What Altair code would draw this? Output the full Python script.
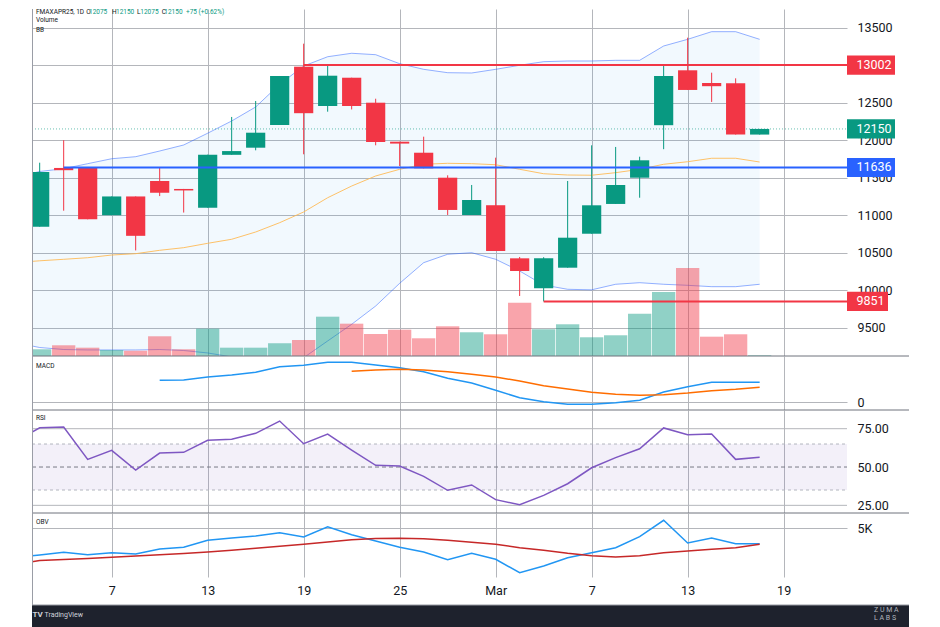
import altair as alt
import pandas as pd

# ---------------- style constants ----------------
FONT = "Roboto"
TXT = "#131722"
GRID = "#b4b6bb"
SEP = "#6f727c"
GREEN = "#089981"
RED = "#F23645"
BLUE = "#2962FF"

W = 815
FULL_W = 877
H_MAIN, H_MACD, H_RSI, H_OBV = 347, 54, 103, 64

# ---------------- data ----------------
tick_idx = [3, 7, 11, 15, 19, 23, 27, 31]
tick_lab = ["7", "13", "19", "25", "Mar", "7", "13", "19"]

bar_idx = list(range(31))
open_ = [10847, 11630, 11633, 11000, 11250, 11455, 11350, 11100, 11805, 11900, 12203,
         12980, 12456, 12833, 12500, 11980, 11833, 11500, 11003, 11133, 10425, 10025,
         10300, 10753, 11150, 11500, 12200, 12932, 12763, 12760, 12075]
high = [11700, 12000, 11633, 11250, 11250, 11630, 11350, 11807, 12310, 12523, 12856,
        13287, 12989, 12833, 12553, 11980, 12047, 11532, 11403, 11767, 10443, 10440,
        11456, 11932, 11910, 11780, 13000, 13367, 12900, 12825, 12150]
low = [10847, 11060, 10945, 11000, 10530, 11255, 11035, 11100, 11805, 11865, 12203,
       11812, 12380, 12410, 11932, 11656, 11625, 11003, 11003, 10523, 9923, 9851,
       10300, 10753, 11150, 11233, 11880, 12669, 12510, 12075, 12075]
close = [11576, 11600, 10945, 11250, 10725, 11300, 11330, 11807, 11855, 12100, 12856,
         12360, 12860, 12456, 11976, 11955, 11625, 11070, 11203, 10523, 10256, 10425,
         10700, 11132, 11403, 11732, 12856, 12670, 12720, 12075, 12150]
volume = [168, 268, 208, 150, 133, 493, 168, 683, 208, 208, 318, 400, 983, 808, 550,
          658, 443, 743, 593, 543, 1333, 668, 793, 468, 518, 1058, 1600, 2200, 483, 543, 18]

ind_idx = list(range(-1, 31))
bb_upper = [11508, 11583, 11620, 11687, 11753, 11780, 11856, 11936, 12093, 12256, 12443,
            12745, 12989, 13113, 13159, 13140, 13020, 12945, 12900, 12896, 12945, 12999,
            13047, 13056, 13056, 13065, 13065, 13256, 13345, 13447, 13447, 13345]
bb_basis = [10368, 10392, 10412, 10433, 10469, 10487, 10532, 10567, 10625, 10679, 10776,
            10900, 11043, 11233, 11389, 11523, 11612, 11679, 11692, 11687, 11673, 11612,
            11553, 11536, 11533, 11567, 11612, 11679, 11713, 11759, 11759, 11709]
bb_lower = [9299, 9236, 9209, 9203, 9203, 9203, 9209, 9196, 9163, 9110, 9100, 9060,
            9100, 9323, 9545, 9789, 10092, 10367, 10479, 10500, 10412, 10256, 10069,
            10012, 10005, 10079, 10100, 10079, 10065, 10047, 10047, 10079]
rsi_vals = [66.7, 75.6, 76.1, 55.0, 60.9, 48.0, 59.1, 59.6, 67.4, 68.1, 72.0, 80.0, 65.2,
            71.5, 61.1, 51.1, 50.7, 43.9, 34.8, 38.3, 28.7, 25.4, 31.5, 39.1, 49.5, 56.1,
            61.9, 75.5, 71.1, 71.5, 55.0, 56.3]
obv_vals = [2110, 2330, 2600, 2360, 2560, 2430, 2930, 3100, 3800, 4030, 4230, 4560, 4130,
            5160, 4360, 3730, 3100, 2630, 1860, 2500, 1900, 560, 1230, 2060, 2560, 3060,
            4160, 5800, 3530, 4030, 3460, 3460]
obv_ma = [1410, 1780, 1880, 1980, 2100, 2230, 2350, 2480, 2630, 2810, 3000, 3200, 3400,
          3630, 3860, 3980, 4000, 3960, 3800, 3600, 3400, 3060, 2800, 2500, 2260, 2130,
          2260, 2560, 2730, 2900, 3060, 3400]

MACD_START = 5
macd_vals = [217, 220, 250, 270, 297, 353, 367, 397, 397, 370, 343, 303, 237, 190, 117,
             43, 3, -23, -23, -7, 17, 100, 153, 197, 197, 197]
SIG_START = 13
signal_vals = [307, 320, 327, 320, 303, 277, 250, 210, 163, 130, 97, 77, 67, 73, 90, 113,
               127, 147]

level_val = [13002, 11636, 9851]
level_from = [11, 1, 21]
level_col = [RED, BLUE, RED]

tag_val = [13002, close[-1], 11636, 9851]
tag_col = [RED, GREEN, BLUE, RED]

price_ticks = [9500, 10000, 10500, 11000, 11500, 12000, 12500, 13000, 13500]
price_hidden = 13000          # label fully covered by the 13002 tag in the original
macd_ticks = [0]
rsi_ticks = [25, 50, 75]
rsi_band = [35, 65]
obv_ticks = [5000]

X_DOM = [-0.32, 33.64]
PRICE_DOM = [9122.7, 13749.3]
VOL_DOM = [0, 8675]
MACD_DOM = [-80, 460]
RSI_DOM = [20.0, 87.2]
OBV_DOM = [130, 6530]

# ---------------- frames ----------------
ind = pd.DataFrame({"i": ind_idx, "up": bb_upper, "mid": bb_basis, "lo": bb_lower,
                    "rsi": rsi_vals, "obv": obv_vals, "obvma": obv_ma})
bars = pd.DataFrame({"i": bar_idx, "o": open_, "h": high, "l": low, "c": close, "v": volume})
one = pd.DataFrame({"k": [0]})

xs = alt.Scale(domain=X_DOM, nice=False, zero=False)
ps = alt.Scale(domain=PRICE_DOM, nice=False, zero=False)

label_expr = ("[" + ",".join(f"'{t}'" for t in tick_lab) + "][indexof(["
              + ",".join(str(v) for v in tick_idx) + "], datum.value)]")


def xaxis(show):
    kw = dict(values=tick_idx, grid=True, gridColor=GRID, gridWidth=1, ticks=False,
              domain=False, labels=show, title=None)
    if show:
        kw.update(labelExpr=label_expr, labelFont=FONT, labelFontSize=12.5, labelColor=TXT,
                  labelPadding=7,
                  labelFontWeight={"condition": {"test": "datum.label == 'Mar'", "value": "bold"},
                                   "value": "normal"})
    return alt.Axis(**kw)


def yaxis(values, fmt=None, expr=None, grid=True):
    kw = dict(values=values, orient="right", grid=grid, gridColor=GRID, gridWidth=1,
              ticks=False, domain=False, title=None, labelFont=FONT, labelFontSize=12.5,
              labelColor=TXT, labelPadding=10)
    if fmt:
        kw["format"] = fmt
    if expr:
        kw["labelExpr"] = expr
    return alt.Axis(**kw)


XA_HIDE = xaxis(False)
XA_SHOW = xaxis(True)
YA_PRICE = yaxis(price_ticks, fmt="d",
                 expr=f"datum.value == {price_hidden} ? '' : format(datum.value, 'd')")
YA_MACD = yaxis(macd_ticks)
YA_RSI = yaxis(rsi_ticks, fmt=".2f", grid=False)
YA_OBV = yaxis(obv_ticks, expr="datum.value / 1000 + 'K'")


def xenc(field, axis):
    return alt.X(f"{field}:Q", scale=xs, axis=axis, title=None)


def hsep(y, color=SEP, x1=FULL_W):
    return alt.Chart(one).mark_rule(color=color, strokeWidth=1).encode(
        x=alt.value(0), x2=alt.value(x1), y=alt.value(y))


def vsep(y0, y1, color="#9a9da6"):
    return alt.Chart(one).mark_rule(color=color, strokeWidth=1).encode(
        x=alt.value(0.5), y=alt.value(y0), y2=alt.value(y1))


def label(text, x, y, size=8, color=TXT, weight="normal", baseline="middle", font=FONT):
    return alt.Chart(one).mark_text(text=text, align="left", baseline=baseline, font=font,
                                    fontSize=size, color=color, fontWeight=weight).encode(
        x=alt.value(x), y=alt.value(y))


updown = alt.condition("datum.c >= datum.o", alt.value(GREEN), alt.value(RED))

# ---------------- main panel ----------------
def py(field, axis):
    return alt.Y(f"{field}:Q", scale=ps, axis=axis, title=None)


bb_fill = alt.Chart(ind).mark_area(color="#2196F3", opacity=0.06, clip=True).encode(
    x=xenc("i", XA_HIDE), y=py("up", YA_PRICE), y2="lo:Q")
bb_up = alt.Chart(ind).mark_line(color=BLUE, opacity=0.5, strokeWidth=1, clip=True).encode(
    x=xenc("i", XA_HIDE), y=py("up", YA_PRICE))
bb_lo = alt.Chart(ind).mark_line(color=BLUE, opacity=0.5, strokeWidth=1, clip=True).encode(
    x=xenc("i", XA_HIDE), y=py("lo", YA_PRICE))
bb_mid = alt.Chart(ind).mark_line(color="#FFB74D", opacity=0.85, strokeWidth=1, clip=True).encode(
    x=xenc("i", XA_HIDE), y=py("mid", YA_PRICE))
last_line = alt.Chart(pd.DataFrame({"v": [close[-1]]})).mark_rule(
    color=GREEN, strokeDash=[1, 2], opacity=0.6).encode(
    x=alt.value(0), x2=alt.value(W), y=py("v", YA_PRICE))
group_a = alt.layer(bb_fill, bb_up, bb_lo, bb_mid, last_line)

vol = alt.Chart(bars).transform_calculate(
    vl="datum.i - 0.485", vr="datum.i + 0.485", v0="0").mark_rect(
    opacity=0.45, clip=True).encode(
    x=xenc("vl", XA_HIDE), x2="vr:Q",
    y=alt.Y("v:Q", scale=alt.Scale(domain=VOL_DOM, nice=False, zero=True), axis=None),
    y2="v0:Q", color=updown)

wicks = alt.Chart(bars).mark_rule(strokeWidth=1, clip=True).encode(
    x=xenc("i", XA_HIDE), y=py("h", None), y2="l:Q", color=updown)
bodies = alt.Chart(bars).transform_calculate(
    xl="datum.i - 0.4", xr="datum.i + 0.4").mark_rect(clip=True).encode(
    x=xenc("xl", XA_HIDE), x2="xr:Q", y=py("o", None), y2="c:Q", color=updown)

levels = alt.Chart(pd.DataFrame({"v": level_val, "s": level_from, "col": level_col})).mark_rule(
    strokeWidth=2, clip=True).encode(
    x=xenc("s", XA_HIDE), x2=alt.value(W), y=py("v", None),
    color=alt.Color("col:N", scale=None))

tags = pd.DataFrame({"v": tag_val, "col": tag_col, "lab": [str(v) for v in tag_val]})
tag_half = 9.6 * (PRICE_DOM[1] - PRICE_DOM[0]) / H_MAIN
tag_base = alt.Chart(tags).transform_calculate(
    n="length(datum.lab)", top=f"datum.v + {tag_half}", bot=f"datum.v - {tag_half}")
tag5 = tag_base.transform_filter("datum.n >= 5").mark_rect().encode(
    x=alt.value(W), x2=alt.value(W + 48), y=py("top", None), y2="bot:Q",
    color=alt.Color("col:N", scale=None))
tag4 = tag_base.transform_filter("datum.n < 5").mark_rect().encode(
    x=alt.value(W), x2=alt.value(W + 41), y=py("top", None), y2="bot:Q",
    color=alt.Color("col:N", scale=None))
tag_text = alt.Chart(tags).mark_text(align="left", baseline="middle", font=FONT,
                                     fontSize=12.5, color="white").encode(
    x=alt.value(W + 9.5), y=py("v", None), text="lab:N")

chg = close[-1] - close[-2]
pct = chg / close[-2] * 100
legend_parts = [
    ("FMAXAPR25, 1D", 4, TXT), ("O", 54.3, TXT), (str(open_[-1]), 57, GREEN),
    ("H", 80, TXT), (str(high[-1]), 84, GREEN), ("L", 105, TXT), (str(low[-1]), 108.3, GREEN),
    ("C", 129.7, TXT), (str(close[-1]), 132.3, GREEN), (f"{chg:+d} ({pct:+.2f}%)", 154, GREEN),
]
legend_layers = [label(t, x, 0, size=6.5, color=col, baseline="top") for t, x, col in legend_parts]
legend_layers += [label("Volume", 4, 11.3, size=6.5), label("BB", 4, 21, size=6.5)]

group_b = alt.layer(wicks, bodies, levels, tag5, tag4, tag_text, *legend_layers,
                    hsep(H_MAIN), vsep(0, H_MAIN))

main = alt.layer(group_a, vol, group_b).resolve_scale(y="independent").properties(
    width=W, height=H_MAIN)

# ---------------- MACD ----------------
ms = alt.Scale(domain=MACD_DOM, nice=False, zero=False)
macd_df = pd.DataFrame({"i": list(range(MACD_START, 31)), "m": macd_vals})
sig_df = pd.DataFrame({"i": list(range(SIG_START, 31)), "s": signal_vals})
macd_line = alt.Chart(macd_df).mark_line(color="#2196F3", strokeWidth=1.5, clip=True).encode(
    x=xenc("i", XA_HIDE), y=alt.Y("m:Q", scale=ms, axis=YA_MACD, title=None))
sig_line = alt.Chart(sig_df).mark_line(color="#FF6D00", strokeWidth=1.5, clip=True).encode(
    x=xenc("i", XA_HIDE), y=alt.Y("s:Q", scale=ms, axis=YA_MACD, title=None))
macd = alt.layer(macd_line, sig_line, label("MACD", 4, 10, size=6.5),
                 hsep(H_MACD), vsep(0, H_MACD)).properties(width=W, height=H_MACD)

# ---------------- RSI ----------------
rs = alt.Scale(domain=RSI_DOM, nice=False, zero=False)


def ry(field):
    return alt.Y(f"{field}:Q", scale=rs, axis=YA_RSI, title=None)


band = alt.Chart(pd.DataFrame({"lo": [rsi_band[0]], "hi": [rsi_band[1]]})).mark_rect(
    color="#7E57C2", opacity=0.09).encode(
    x=alt.value(0), x2=alt.value(W), y=ry("hi"), y2="lo:Q")
rsi_grid = alt.Chart(pd.DataFrame({"v": [rsi_ticks[0], rsi_ticks[2]]})).mark_rule(
    color=GRID).encode(x=alt.value(0), x2=alt.value(W), y=ry("v"))
rsi_edges = alt.Chart(pd.DataFrame({"v": rsi_band})).mark_rule(
    color="#b2b5be", strokeDash=[3, 3]).encode(
    x=alt.value(0), x2=alt.value(W), y=ry("v"))
rsi_mid = alt.Chart(pd.DataFrame({"v": [rsi_ticks[1]]})).mark_rule(
    color="#787b86", strokeDash=[4, 3]).encode(
    x=alt.value(0), x2=alt.value(W), y=ry("v"))
rsi_line = alt.Chart(ind).mark_line(color="#7E57C2", strokeWidth=1.5, clip=True).encode(
    x=xenc("i", XA_HIDE), y=ry("rsi"))
rsi = alt.layer(band, rsi_grid, rsi_edges, rsi_mid, rsi_line, label("RSI", 4, 8, size=6.5),
                hsep(H_RSI), vsep(0, H_RSI)).properties(width=W, height=H_RSI)

# ---------------- OBV ----------------
os_ = alt.Scale(domain=OBV_DOM, nice=False, zero=False)
obv_line = alt.Chart(ind).mark_line(color="#2196F3", strokeWidth=1.5, clip=True).encode(
    x=xenc("i", XA_SHOW), y=alt.Y("obv:Q", scale=os_, axis=YA_OBV, title=None))
obvma_line = alt.Chart(ind).mark_line(color="#C62828", strokeWidth=1.5, clip=True).encode(
    x=xenc("i", XA_SHOW), y=alt.Y("obvma:Q", scale=os_, axis=YA_OBV, title=None))
foot_top = H_OBV + 28
footer = alt.Chart(one).mark_rect(color="#1e222d").encode(
    x=alt.value(0), x2=alt.value(FULL_W), y=alt.value(foot_top), y2=alt.value(foot_top + 26))
obv = alt.layer(
    obv_line, obvma_line, label("OBV", 4, 9, size=6.5), vsep(0, foot_top), footer,
    hsep(foot_top, color="#9598a1"),
    label("TV", 0.5, foot_top + 10, size=8, color="#d1d4dc", weight="bold"),
    label("TradingView", 12.5, foot_top + 10, size=7, color="#d1d4dc"),
    label("Z  U  M  A", 842, foot_top + 5, size=7, color="#b2b5be"),
    label("L  A  B  S", 842, foot_top + 13, size=7, color="#b2b5be"),
).properties(width=W, height=H_OBV)

chart = alt.vconcat(main, macd, rsi, obv, spacing=0, bounds="flush").resolve_scale(
    x="independent", y="independent").properties(
    padding={"left": 23, "top": 0, "right": 0, "bottom": 0}, background="white"
).configure_view(stroke=None)

chart.save("out.html", embed_options={"renderer": "svg", "actions": False})
